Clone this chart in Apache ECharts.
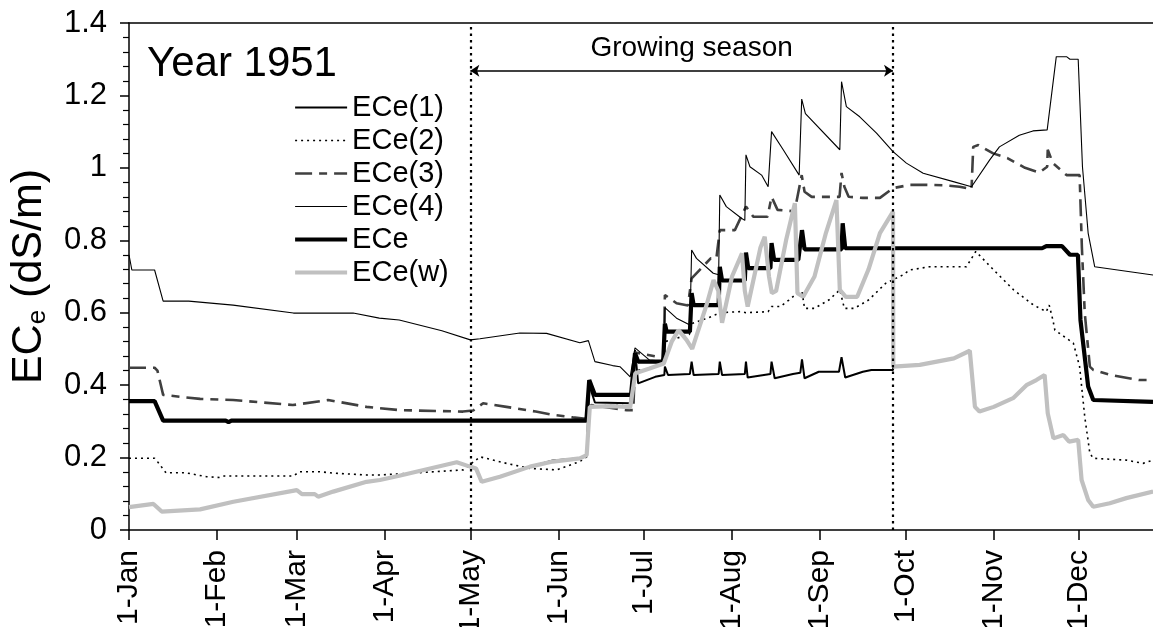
<!DOCTYPE html>
<html>
<head>
<meta charset="utf-8">
<script src="https://cdn.jsdelivr.net/npm/echarts@6/dist/echarts.min.js"></script>
<style>
html,body{margin:0;padding:0;background:#fff;}
#chart{width:1153px;height:627px;}
</style>
</head>
<body>
<div id="chart"></div>
<script>
// ---- Data (day of year from 1-Jan = 0, value in dS/m) ----
const monthDays = [0, 31, 59, 90, 120, 151, 181, 212, 243, 273, 304, 334];
const monthLabels = ['1-Jan','1-Feb','1-Mar','1-Apr','1-May','1-Jun','1-Jul','1-Aug','1-Sep','1-Oct','1-Nov','1-Dec'];
const yTicks = [0, 0.2, 0.4, 0.6, 0.8, 1, 1.2, 1.4];
const seasonStart = 120;   // 1-May
const seasonEnd = 268.6;   // ~27-Sep
const seasonArrowLevel = 1.268;

const ece1 = [[0,0.063],[8.6,0.072],[11.5,0.051],[25,0.057],[36.7,0.078],[59,0.11],[60.8,0.099],[65.3,0.099],[66.5,0.092],[71.8,0.106],[83.5,0.133],[88.2,0.138],[95,0.15],[115.2,0.187],[119.9,0.175],[122,0.17],[124,0.133],[130.4,0.147],[141,0.175],[149,0.192],[158.5,0.198],[160.9,0.205],
 [161.8,0.40],[163.8,0.352],[176.2,0.35],[177.9,0.497],[179,0.405],[185,0.423],[188.2,0.428],[188.4,0.451],[189.5,0.428],[197.2,0.431],[197.8,0.465],[198.5,0.428],[207.3,0.431],[207.7,0.465],[208.5,0.428],[216.5,0.431],[216.9,0.465],[217.5,0.421],[225.5,0.431],[225.9,0.465],[227,0.419],[233.4,0.431],[236,0.434],[236.6,0.471],[237.5,0.419],[242.5,0.437],[249.6,0.437],[250.5,0.477],[251.8,0.421],[258,0.437],[261,0.442],[268.6,0.442],
 [268.7,0.451],[278,0.456],[284,0.465],[290,0.474],[295.6,0.495],[297.4,0.34],[299,0.327],[304,0.34],[310.8,0.364],[315.5,0.4],[319,0.414],[321.9,0.428],[323,0.322],[325,0.253],[328.5,0.262],[330.5,0.244],[333.7,0.249],[334.9,0.138],[337.2,0.083],[339,0.064],[344.8,0.074],[350.6,0.088],[360,0.106]];

const ece2 = [[0,0.198],[9,0.198],[10,0.189],[13,0.158],[20,0.158],[27.3,0.147],[32,0.145],[33.5,0.149],[57.7,0.149],[60,0.161],[67,0.161],[72,0.157],[83.5,0.152],[88,0.152],[95,0.155],[117.5,0.166],[123.4,0.202],[132.7,0.184],[141,0.17],[150.3,0.166],[158.5,0.189],[160.9,0.202],[162,0.34],[170,0.345],[176.5,0.342],[178,0.44],[185,0.45],[188.2,0.47],[188.4,0.52],[197,0.54],[197.8,0.57],[205,0.59],[207.7,0.6],[215,0.603],[216.9,0.6],[224.7,0.603],[225.9,0.617],[229,0.617],[232,0.635],[235,0.654],[236.6,0.658],[237.5,0.612],[241,0.612],[246,0.635],[249.9,0.663],[250.5,0.66],[251.5,0.612],[255,0.612],[260,0.635],[266,0.681],[272,0.704],[274.5,0.718],[281.5,0.727],[294.4,0.727],[297.7,0.769],[304,0.718],[311,0.663],[318,0.621],[322.5,0.603],[323.5,0.621],[324.8,0.58],[325.5,0.552],[332,0.516],[334.2,0.451],[336,0.313],[337.8,0.212],[339,0.198],[350.5,0.193],[356.5,0.184],[360,0.193]];

const ece3 = [[0,0.448],[9,0.448],[10,0.44],[12,0.373],[25,0.362],[36.6,0.359],[57.6,0.345],[70,0.359],[83.5,0.34],[95,0.331],[117.4,0.327],[121,0.33],[124.5,0.35],[132.7,0.34],[143,0.327],[149,0.318],[156,0.311],[160.5,0.307],[162.5,0.345],[170.2,0.336],[175,0.331],[177.3,0.331],[178,0.49],[185.5,0.479],[188,0.47],[188.4,0.649],[192.5,0.626],[196.5,0.62],[197.8,0.695],[204.5,0.75],[206.5,0.75],[207.7,0.828],[213,0.828],[216.9,0.893],[219.5,0.865],[224.5,0.865],[225.9,0.92],[228,0.884],[234,0.88],[236.5,0.98],[237.5,0.934],[240,0.92],[246,0.92],[249.8,0.92],[250.5,0.986],[251.5,0.948],[253,0.92],[258,0.917],[264,0.917],[268.6,0.944],[274.5,0.953],[280,0.953],[286,0.952],[292,0.948],[296.2,0.941],[296.8,1.058],[298.6,1.063],[303.8,1.04],[308.8,1.027],[315,1.0],[320,0.987],[322.8,1.003],[323,1.05],[324.8,1.013],[329.6,0.98],[334.2,0.98],[335,0.78],[336,0.6],[337.8,0.451],[339,0.442],[345,0.428],[355,0.414],[360,0.414]];

const ece4 = [[0,0.76],[1,0.718],[9,0.718],[12,0.632],[21,0.632],[36.6,0.621],[57.8,0.599],[78.8,0.599],[88,0.585],[95,0.58],[110,0.55],[120,0.525],[123.4,0.528],[137.4,0.544],[146.8,0.543],[158.5,0.517],[161.5,0.523],[163.8,0.465],[170,0.454],[172.6,0.451],[176.2,0.423],[177.9,0.503],[183,0.469],[188.2,0.466],[188.4,0.614],[192.5,0.585],[197.2,0.566],[197.8,0.773],[199.5,0.75],[205.4,0.709],[207.3,0.705],[207.7,0.925],[210,0.893],[215.3,0.861],[216.5,0.855],[216.9,1.036],[218.3,1.003],[222.4,0.98],[224.7,0.948],[225.9,1.10],[230,1.05],[235.6,0.98],[236.5,1.19],[237.8,1.15],[249.9,1.05],[250.5,1.238],[252.2,1.169],[256.9,1.141],[262.8,1.096],[268.6,1.045],[273.3,1.013],[279.2,0.985],[289.8,0.962],[296.2,0.948],[302.6,1.022],[306,1.058],[313,1.09],[317.8,1.102],[322.8,1.105],[323.2,1.11],[326,1.307],[329.6,1.307],[330.8,1.30],[333.7,1.30],[335.2,1.003],[337.2,0.82],[339.5,0.727],[360,0.704]];

const eceMean = [[0,0.356],[9,0.356],[12,0.302],[34,0.302],[35,0.298],[36,0.302],[160.8,0.302],[161.8,0.414],[163.8,0.373],[176.5,0.373],[177.9,0.488],[179,0.465],[187.8,0.465],[188.4,0.57],[189,0.548],[197.2,0.548],[197.8,0.654],[198.5,0.621],[207.3,0.621],[207.7,0.727],[208.5,0.689],[216.5,0.689],[216.9,0.766],[217.7,0.723],[225.5,0.723],[225.9,0.792],[226.8,0.746],[235.3,0.746],[236.6,0.828],[237.5,0.775],[250.5,0.775],[250.9,0.847],[251.8,0.778],[321,0.778],[322.5,0.784],[328,0.784],[330.8,0.76],[333.6,0.76],[334.5,0.58],[337.2,0.396],[339,0.359],[360,0.354]];

const eceW = [[0,0.063],[8.6,0.072],[11.5,0.051],[25,0.057],[36.7,0.078],[59,0.11],[60.8,0.099],[65.3,0.099],[66.5,0.092],[71.8,0.106],[83.5,0.133],[88.2,0.138],[95,0.15],[115.2,0.187],[119.9,0.175],[122,0.17],[124,0.133],[130.4,0.147],[141,0.175],[149,0.189],[158.5,0.198],[160.9,0.207],[162,0.34],[170.2,0.342],[176.2,0.339],[178,0.433],[183,0.446],[188,0.46],[190.8,0.52],[193.2,0.552],[196,0.525],[198,0.5],[203,0.62],[205.5,0.69],[207.2,0.66],[208.5,0.572],[212,0.7],[215.5,0.764],[216.5,0.66],[217.5,0.617],[222,0.78],[223.5,0.81],[225,0.7],[226,0.654],[227.5,0.66],[231,0.8],[234.1,0.902],[235,0.654],[237,0.644],[241,0.7],[245,0.82],[248.7,0.911],[249.9,0.663],[252,0.644],[256,0.644],[260,0.72],[264,0.82],[268.6,0.879],[268.7,0.451],[278,0.456],[284,0.465],[290,0.474],[295.6,0.495],[297.4,0.34],[299,0.327],[304,0.34],[310.8,0.364],[315.5,0.4],[319,0.414],[321.9,0.428],[323,0.322],[325,0.253],[328.5,0.262],[330.5,0.244],[333.7,0.249],[334.9,0.138],[337.2,0.083],[339,0.064],[344.8,0.074],[350.6,0.088],[360,0.106]];

// ---- Chart ----
const FONT = '"Liberation Sans", Arial, sans-serif';
const chart = echarts.init(document.getElementById('chart'), null, {renderer: 'canvas'});

const styles = {
  'ECe(1)': {color: '#000', width: 2, type: 'solid'},
  'ECe(2)': {color: '#000', width: 1.6, type: [2, 4]},
  'ECe(3)': {color: '#404040', width: 2.6, type: [17, 7, 8, 7]},
  'ECe(4)': {color: '#000', width: 1.1, type: 'solid'},
  'ECe': {color: '#000', width: 4.2, type: 'solid'},
  'ECe(w)': {color: '#c0c0c0', width: 4.2, type: 'solid'}
};

function lineSeries(name, data) {
  const s = styles[name];
  return {
    name: name, type: 'line', data: data, showSymbol: false, symbol: 'none',
    lineStyle: {color: s.color, width: s.width, type: s.type},
    itemStyle: {color: s.color},
    emphasis: {disabled: true}, animation: false
  };
}

const legendNames = ['ECe(1)', 'ECe(2)', 'ECe(3)', 'ECe(4)', 'ECe', 'ECe(w)'];

const option = {
  animation: false,
  backgroundColor: '#fff',
  title: {
    text: 'Year 1951', left: 147, top: 43, padding: 0,
    textStyle: {fontFamily: FONT, fontSize: 42, fontWeight: 'normal', color: '#000'}
  },
  legend: {
    orient: 'vertical', left: 293, top: 93, padding: 0,
    itemWidth: 52, itemHeight: 12, itemGap: 4,
    itemStyle: {opacity: 0, borderWidth: 0},
    textStyle: {fontFamily: FONT, fontSize: 29, color: '#000', lineHeight: 29},
    data: legendNames.map(function (n) {
      const s = styles[n];
      return {name: n, lineStyle: {color: s.color, width: s.width, type: s.type}};
    }),
    selectedMode: false
  },
  grid: {left: 129, right: 0, top: 23, bottom: 97, containLabel: false, outerBoundsMode: 'none'},
  xAxis: [{
    type: 'value', min: 0, max: 360,
    axisLine: {show: true, onZero: false, lineStyle: {color: '#000', width: 1.5}},
    axisTick: {show: true, inside: false, length: 10, customValues: monthDays, lineStyle: {color: '#000', width: 1.5}},
    axisLabel: {
      customValues: monthDays, rotate: 90, margin: 20,
      fontFamily: FONT, fontSize: 30, color: '#000',
      formatter: function (v) { const i = monthDays.indexOf(v); return i >= 0 ? monthLabels[i] : ''; }
    },
    splitLine: {show: false}
  }, {
    type: 'value', min: 0, max: 360, position: 'top',
    axisLine: {show: true, onZero: false, lineStyle: {color: '#000', width: 1.5}},
    axisTick: {show: false}, axisLabel: {show: false}, splitLine: {show: false}
  }],
  yAxis: {
    type: 'value', min: 0, max: 1.4, interval: 0.2,
    axisLine: {show: true, onZero: false, lineStyle: {color: '#000', width: 1.5}},
    axisTick: {show: true, inside: false, length: 9, lineStyle: {color: '#000', width: 1.5}},
    minorTick: {show: true, splitNumber: 5, length: 6, lineStyle: {color: '#000', width: 1.2}},
    axisLabel: {margin: 22, fontFamily: FONT, fontSize: 31, color: '#000',
      customValues: yTicks,
      formatter: function (v) { return String(Math.round(v * 10) / 10); }},
    splitLine: {show: false},
    name: '{a|EC}{b|e}{a| (dS/m)}',
    nameLocation: 'middle', nameRotate: 90, nameGap: 78,
    nameTextStyle: {
      fontFamily: FONT, color: '#000',
      rich: {
        a: {fontFamily: FONT, fontSize: 43, color: '#000', lineHeight: 43},
        b: {fontFamily: FONT, fontSize: 26, color: '#000', lineHeight: 26, verticalAlign: 'bottom'}
      }
    }
  },
  series: [
    lineSeries('ECe(1)', ece1),
    lineSeries('ECe(2)', ece2),
    lineSeries('ECe(3)', ece3),
    lineSeries('ECe(4)', ece4),
    lineSeries('ECe', eceMean),
    lineSeries('ECe(w)', eceW),
    {
      name: 'season-bounds', type: 'line', data: [], silent: true, animation: false,
      markLine: {
        symbol: 'none', silent: true, animation: false, label: {show: false},
        lineStyle: {color: '#000', width: 2.2, type: [2.5, 4]},
        data: [{xAxis: seasonStart}, {xAxis: seasonEnd}]
      }
    },
    {
      name: 'season-arrow', type: 'line', data: [], silent: true, animation: false,
      markLine: {
        symbol: ['arrow', 'arrow'], symbolSize: 9, silent: true, animation: false,
        lineStyle: {color: '#000', width: 1.5, type: 'solid'},
        label: {show: true, position: 'middle', formatter: 'Growing season', distance: 9,
          padding: [0, 0, 0, 20],
          fontFamily: FONT, fontSize: 28, color: '#000'},
        data: [[{coord: [seasonStart, seasonArrowLevel]}, {coord: [seasonEnd, seasonArrowLevel]}]]
      }
    }
  ]
};
chart.setOption(option);
</script>
</body>
</html>
